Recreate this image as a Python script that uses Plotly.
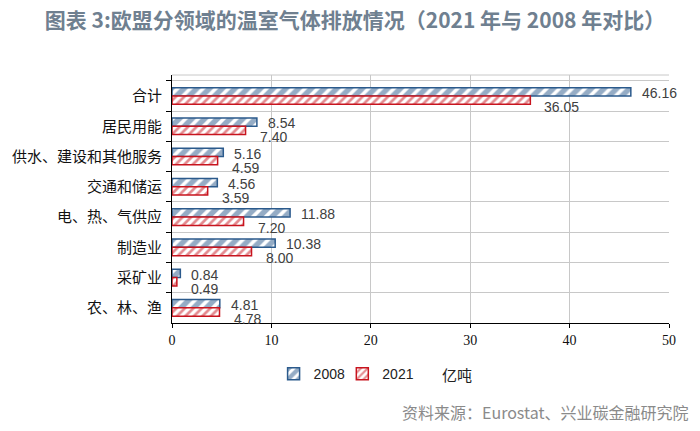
import plotly.graph_objects as go

categories = ["合计", "居民用能", "供水、建设和其他服务", "交通和储运", "电、热、气供应", "制造业", "采矿业", "农、林、渔"]
v2008 = [46.16, 8.54, 5.16, 4.56, 11.88, 10.38, 0.84, 4.81]
v2021 = [36.05, 7.40, 4.59, 3.59, 7.20, 8.00, 0.49, 4.78]
xticks = [0, 10, 20, 30, 40, 50]

BLUE = "#2B5A8C"
RED = "#C8141E"

fig = go.Figure()
fig.add_trace(go.Bar(
    y=categories, x=v2008, orientation="h", name="2008", legend="legend", showlegend=True,
    marker=dict(color="white", line=dict(color=BLUE, width=1.5),
                pattern=dict(shape="/", fgcolor=BLUE, bgcolor="white", size=9, solidity=0.6)),
))
fig.add_trace(go.Bar(
    y=categories, x=v2021, orientation="h", name="2021", legend="legend2", showlegend=True,
    marker=dict(color="white", line=dict(color=RED, width=1.5),
                pattern=dict(shape="/", fgcolor=RED, bgcolor="white", size=6, solidity=0.45)),
))

ann = []
for c, a, b in zip(categories, v2008, v2021):
    ann.append(dict(x=a, y=c, text=f"{a:.2f}", showarrow=False, xanchor="left", xshift=9, yshift=3,
                    font=dict(size=14, color="#404040", family="Liberation Sans")))
    ann.append(dict(x=b, y=c, text=f"{b:.2f}", showarrow=False, xanchor="left", xshift=12, yshift=-11,
                    font=dict(size=14, color="#404040", family="Liberation Sans")))

ann.append(dict(xref="paper", yref="paper", x=0.539, y=-0.206, text="亿吨", showarrow=False,
                xanchor="left", yanchor="middle", font=dict(size=15, color="#222", family="Noto Sans CJK SC")))
ann.append(dict(xref="paper", yref="paper", x=1.042, y=-0.357, text="资料来源：Eurostat、兴业碳金融研究院",
                showarrow=False, xanchor="right", yanchor="middle",
                font=dict(size=16, color="#8a8a8a", family="Noto Sans CJK SC")))

leg_common = dict(orientation="h", xanchor="left", y=-0.206, yanchor="middle",
                  font=dict(size=14, family="Liberation Sans", color="#222"),
                  itemwidth=30, bgcolor="rgba(0,0,0,0)", visible=True)
fig.update_layout(
    width=700, height=431, showlegend=True,
    margin=dict(l=170, r=31, t=75, b=108),
    paper_bgcolor="white", plot_bgcolor="white",
    barmode="group", bargap=0.45, bargroupgap=0,
    title=dict(text="<b>图表 3:欧盟分领域的温室气体排放情况（2021 年与 2008 年对比）</b>",
               x=0.064, xanchor="left", y=0.952, yanchor="middle",
               font=dict(size=21, color="#6F8090", family="Noto Sans CJK SC")),
    xaxis=dict(range=[0, 50], tickvals=xticks, showgrid=True, gridcolor="#C8C8C8", gridwidth=1,
               showline=True, linecolor="black", linewidth=1, ticks="outside", ticklen=4, tickcolor="black",
               tickfont=dict(size=14, family="Liberation Serif", color="#111"), zeroline=False),
    yaxis=dict(autorange="reversed", tickson="boundaries", showgrid=True, gridcolor="#C8C8C8",
               showline=True, linecolor="black", linewidth=1, ticks="outside", ticklen=5, tickcolor="black",
               ticklabelstandoff=6,
               tickfont=dict(size=15, family="Noto Sans CJK SC", color="#111")),
    legend=dict(x=(272 - 170) / 499, **leg_common),
    legend2=dict(x=(341 - 170) / 499, **leg_common),
    annotations=ann,
    shapes=[dict(type="line", xref="paper", yref="paper", x0=0, x1=1, y0=1, y1=1,
                 line=dict(color="#C8C8C8", width=1))],
)
fig.write_html("out.html")
